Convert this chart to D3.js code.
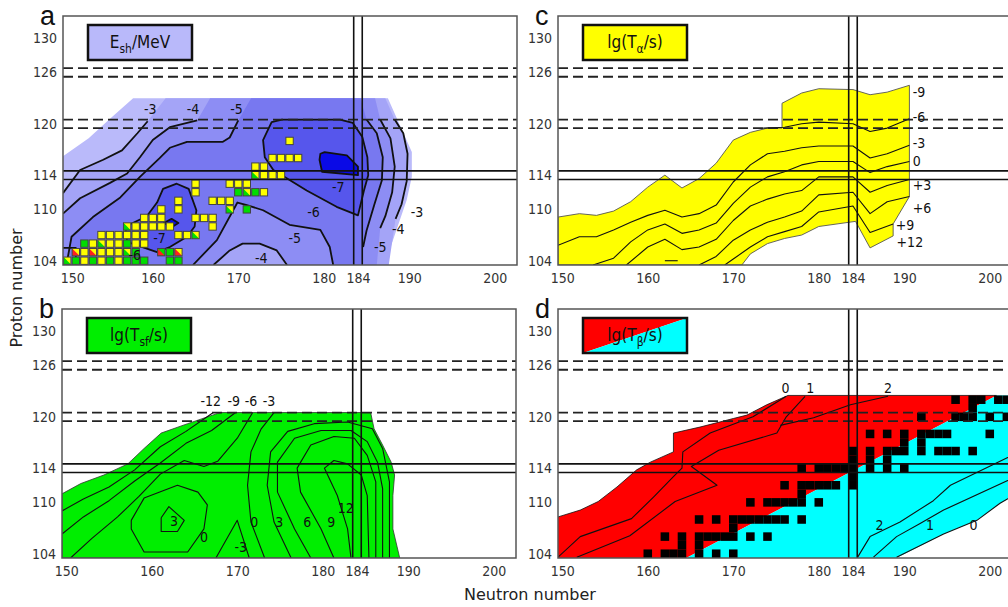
<!DOCTYPE html>
<html>
<head>
<meta charset="utf-8">
<script src="https://cdn.jsdelivr.net/npm/d3@7"></script>
<style>
  body { margin: 0; background: #fff; }
  svg { display: block; }
</style>
</head>
<body>
<svg id="chart" width="1008" height="607"></svg>
<script>
// ---- shared axes
const xTicks = [150, 160, 170, 180, 184, 190, 200];
const yTicks = [104, 110, 114, 120, 126, 130];
const shellN = [184];
const shellZ = [114];
const dashedZ = [120, 126];

// ---- panel a: shell correction energy (MeV), contour fills from outside in
const eshOuter = [[149.5,103.5],[149.5,116.2],[152.5,118.3],[155,120.6],[157.7,123],[187.5,123],[190.3,116.7],[190.3,113.8],[189.7,111.1],[187.1,103.5]];
const eshBand3 = [[149.5,103.5],[149.5,111.9],[151.5,114.6],[154.2,115.8],[156.4,116.9],[158.2,118.9],[159.4,120.3],[161.5,123],[187.2,123],[188.3,120.5],[189.3,118.9],[189.8,116.5],[189.7,113.3],[189.1,110.6],[188.4,108.9],[187.6,103.5]];
const eshBand4 = [[149.5,103.5],[149.5,109.5],[151.5,111.3],[155,113.1],[157,114.2],[158.5,116.1],[160,118.1],[162,119.6],[165.2,120.4],[166.7,123],[186,123],[186.6,120.5],[187.8,118.3],[188.3,115],[188,112],[187.2,109.2],[186.6,107.8],[186.2,103.5],[175.7,103.5],[174.5,105.2],[172.5,106],[170.5,106],[169,105.2],[167.1,103.5]];
const eshBand5 = [[149.9,103.5],[150.5,106.8],[153,109.1],[156.2,111.4],[158.5,113.8],[160.8,116],[162,117.2],[164,117.9],[168.2,117.9],[169,118.4],[170,120.4],[171.5,123],[184.3,123],[185,120.5],[186.2,118.9],[186.9,116.1],[186.8,113.4],[185.9,110.5],[185,107.5],[184.6,105.6],[184.4,103.5],[181.1,103.5],[180.7,105.6],[179.6,107.6],[176,108.2],[172.9,109.9],[171,110.5],[169.9,110.8],[167.5,106.4],[164.7,103.5]];
const eshBand6 = [[173.9,120.2],[175.1,120.5],[181.9,120.5],[183.4,120.1],[184.5,118.5],[185.1,116.1],[185.2,114],[184.7,112.2],[184,109.3],[181.5,110.3],[178,112.2],[174.1,114.6],[173.1,116.1],[172.9,118.1]];
const eshIsland6 = [[161.2,112.4],[162.8,113.0],[164.2,112.4],[165.1,109.9],[164.9,108.0],[164,106.8],[162,105.6],[160.5,105.0],[157,106.2],[156.8,108],[159.3,109.2],[160.5,110.8]];
const eshCore7 = [[179.5,115.8],[179.6,116.5],[180.1,116.7],[182.7,116.3],[184,115],[184,114],[179.8,114.4]];
const eshIslandCore = [[161.3,108.4],[162.2,108.9],[163,108.4],[162.2,107.9]];
const eshContours = [
  [[149.5,111.9],[151.5,114.6],[154.2,115.8],[156.4,116.9],[158.2,118.9],[159.4,120.3]],
  [[149.5,109.5],[151.5,111.3],[155,113.1],[157,114.2],[158.5,116.1],[160,118.1],[162,119.6],[165.2,120.4]],
  [[149.9,103.5],[150.5,106.8],[153,109.1],[156.2,111.4],[158.5,113.8],[160.8,116],[162,117.2],[164,117.9],[168.2,117.9],[169,118.4],[170,120.4]],
  [[164.7,103.5],[167.5,106.4],[169.9,110.8],[171,110.5],[172.9,109.9],[176,108.2],[179.6,107.6],[180.7,105.6],[181.1,103.5]],
  [[167.1,103.5],[169,105.2],[170.5,106],[172.5,106],[174.5,105.2],[175.7,103.5]],
  [[185.0,120.5],[186.2,118.9],[186.9,116.1],[186.8,113.4],[185.9,110.5],[185.0,107.5],[184.6,105.6]],
  [[186.6,120.5],[187.8,118.3],[188.3,115],[188.0,112],[187.2,109.2],[186.6,107.8]],
  [[188.3,120.5],[189.3,118.9],[189.8,116.5],[189.7,113.3],[189.1,110.6],[188.4,108.9]],
  [[149.5,105.5],[151,105.5],[151,103.5]]
];
const eshLabels = [
  ['-3',159.7,121.7],['-4',164.7,121.7],['-5',169.8,121.7],['-7',181.7,112.6],['-6',178.8,109.7],
  ['-5',176.6,106.7],['-4',172.7,104.3],['-3',190.9,109.7],['-4',188.7,107.7],['-5',186.6,105.6],
  ['-7',160.8,106.7],['-6',157.9,104.7]
];
// known nuclei: [N, Z, colour code] (two letters = lower-left / upper-right halves)
const knownCells = [
  [176,118,'y'],
  [174,116,'y'],[175,116,'y'],[176,116,'y'],[177,116,'y'],
  [172,115,'y'],[173,115,'y'],
  [172,114,'gy'],[173,114,'y'],[174,114,'y'],[175,114,'y'],
  [165,113,'y'],[169,113,'y'],[170,113,'y'],[171,113,'y'],
  [165,112,'y'],[170,112,'g'],[171,112,'gy'],[172,112,'g'],[173,112,'y'],
  [163,111,'y'],[167,111,'y'],[168,111,'y'],[169,111,'y'],
  [161,110,'y'],[163,110,'y'],[169,110,'gy'],[171,110,'g'],
  [159,109,'y'],[160,109,'y'],[161,109,'y'],[165,109,'y'],[166,109,'y'],[167,109,'y'],
  [157,108,'gy'],[158,108,'y'],[159,108,'y'],[160,108,'y'],[161,108,'y'],[162,108,'y'],[167,108,'y'],
  [154,107,'y'],[155,107,'y'],[156,107,'y'],[157,107,'y'],[158,107,'y'],[159,107,'y'],[163,107,'y'],[164,107,'y'],[165,107,'gy'],
  [152,106,'g'],[153,106,'y'],[154,106,'gy'],[155,106,'y'],[156,106,'y'],[157,106,'g'],[158,106,'y'],[159,106,'y'],
  [151,105,'ry'],[152,105,'y'],[153,105,'ry'],[154,105,'y'],[155,105,'y'],[156,105,'y'],[157,105,'gy'],[158,105,'g'],[161,105,'rg'],[162,105,'g'],[163,105,'ry'],
  [150,104,'gy'],[151,104,'g'],[152,104,'y'],[153,104,'g'],[154,104,'y'],[155,104,'g'],[156,104,'y'],[157,104,'g'],[158,104,'g'],[159,104,'g'],[162,104,'g'],[163,104,'g']
];

// ---- panel b: spontaneous fission half-lives
const sfRegion = [[149.5,103.5],[149.5,111.0],[151.7,112.2],[154.4,113.2],[157.2,114.5],[159.1,116.3],[161.1,118.1],[164.2,119.2],[167.7,120.4],[168.2,120.5],[185.6,120.5],[186,118.6],[187,116.7],[188,114.7],[188.4,113.2],[188.2,110.8],[188.2,106.9],[189,103.5]];
const sfContours = [
  [[149.5,109.0],[152,110.4],[155,111.8],[158,113.8],[161,116.5],[164,118.3],[167.2,120.5]],
  [[149.5,106.3],[152,108.3],[155,110.2],[158,112.5],[161,114.6],[164,116.9],[167,118.4],[169.8,120.5]],
  [[150.5,103.5],[153,105.8],[156,108.3],[158.5,110.7],[161,113.3],[163.8,114.9],[166.1,114.2],[167.7,114.8],[170,117.5],[171.8,120.5]],
  [[173.2,103.5],[171.6,107.7],[171.2,112],[171.6,115.9],[172.8,118.6],[174.3,120.5]],
  [[176.3,103.5],[174.3,107.7],[173.5,112],[173.9,115.9],[175.9,118.3],[179,119.2],[182.9,119.4],[185.8,118.6],[187,116.3],[187.8,112.4],[187.8,103.5]],
  [[178.6,103.5],[176.7,106.9],[174.7,111.2],[174.7,114.7],[176.7,117.5],[179.8,118.4],[183.3,118.4],[185.2,117.1],[186.4,114.7],[187,111.6],[187,103.5]],
  [[181.3,103.5],[179.8,106.9],[177.4,111.2],[177,114],[178.6,116.7],[181.3,117.7],[183.7,117.5],[185.2,115.5],[186.2,112.4],[186.2,103.5]],
  [[183.3,103.5],[182.9,106.9],[181.7,110.8],[180.2,114],[181.3,114.9],[182.9,114.5],[184.5,113.2],[185.2,110.8],[185.4,103.5]],
  [[157.6,107.9],[159.1,110.5],[163,112],[165.4,111.2],[166.5,109.7],[166.1,106.9],[164.2,104.2],[159.1,104.2],[157.6,106.9],[157.6,107.9]],
  [[161.1,108.2],[162,109.5],[163.8,107.9],[163,106.6],[161.1,106.6],[161.1,108.2]],
  [[167.5,103.5],[170,107.9],[171.4,103.5]]
];
const sfLabels = [
  ['-12',166.9,121.8],['-9',169.6,121.8],['-6',171.6,121.8],['-3',173.7,121.8],
  ['3',162.6,107.8],['0',166.1,106],['-3',170.4,104.8],['0',172,107.7],['3',174.9,107.7],
  ['6',178.2,107.7],['9',181,107.7],['12',182.7,109.3]
];

// ---- panel c: alpha-decay half-lives
const alphaTop = [[149.5,109.1],[152,109.5],[154,109.3],[156,109.8],[158,110.9],[160,112.6],[162,114.0],[164,112.5],[166,113.6],[168,115.4],[170,118.1],[172,119.0],[174,119.5],[175.7,119.5],[175.7,122.4],[178,123.6],[180,124.1],[184,124.0],[186,123.4],[188,123.7],[190.6,124.5]];
const alphaEdge = [[190.6,111.5],[188.7,108.3],[188.7,106.9],[186,105.5],[184.3,108.6],[180,108],[178,107],[176,106.6],[174,106],[172,104.8],[171,103.5],[149.5,103.5]];
const alphaContours = [
  [[173.5,119.5],[176,119.6],[178,120.0],[180,120.2],[184,120.0],[186,119.1],[188,119.5],[190.6,120.6]],
  [[149.5,105.8],[152,106.8],[154,106.8],[156,107.6],[158,108.5],[160,109.3],[162,109.9],[164,109.1],[166,109.5],[168,110.5],[170,113.2],[172,115.2],[174,116.5],[176,116.8],[178,117.2],[180,117.4],[184,117.4],[186,116.0],[188,116.5],[190.6,117.5]],
  [[153.6,103.5],[156,104.3],[158,106.2],[160,107.6],[162,108.3],[164,107.2],[166,107.6],[168,108.4],[170,110.7],[172,112.6],[174,113.8],[176,114.4],[178,115.2],[180,115.6],[184,115.6],[186,114.3],[188,115.0],[190.6,115.6]],
  [[157.5,103.5],[160,105.6],[162,106.5],[164,105.3],[166,105.6],[168,106.5],[170,108.7],[172,110.4],[174,111.2],[176,111.8],[178,112.2],[180,113.8],[184,113.8],[186,112.0],[188,112.8],[190.6,113.5]],
  [[162,104.0],[163.5,104.0]],
  [[166,103.5],[168,104.5],[170,106.4],[172,107.6],[174,108.5],[176,109.1],[178,109.8],[180,111.7],[184,112.0],[186,109.5],[188,110.9],[190.6,111.5]],
  [[169,103.5],[170,104.2],[172,105.6],[174,106.8],[176,107.4],[178,108.0],[180,109.7],[184,110.4],[186,107.3],[188.7,108.3]]
];
const alphaLabels = [
  ['-9',191,123.7],['-6',191,120.8],['-3',191,117.7],['0',191,115.7],
  ['+3',191,112.8],['+6',191,110.2],['+9',189,108.2],['+12',189.1,106.2]
];

// ---- panel d: beta-decay half-lives
const betaRed = [[149.5,103.5],[149.5,108.3],[152.1,109.1],[154.2,110.1],[156.4,111.8],[158.7,113.8],[160.3,114.7],[163,115.9],[163,118.1],[166.1,118.8],[170,119.8],[171.6,120.2],[173.9,121.4],[176.4,122.5],[200.8,122.5],[164.5,103.5]];
const betaCyan = [[164.5,103.5],[200.8,122.5],[202.6,122.5],[202.6,110.7],[201.2,109.9],[198.5,107.9],[194.6,106.3],[189.1,103.5]];
const betaContours = [
  [[149.5,103.6],[152.1,106],[158.1,108.1],[160.7,110.65],[163,113],[164,114],[164.1,115.9],[167.3,118.1],[172.3,120],[176.2,122.4]],
  [[151.7,103.6],[157.9,106.1],[163.2,110.1],[168.1,112],[165.1,114.2],[168.3,116.1],[175.1,118.1],[176.2,120],[178.4,122.4]],
  [[175.5,119.0],[179.4,119.9],[183.7,121.4],[188.1,122.4]],
  [[184.55,103.6],[186,106],[189.5,107.7],[193.4,110.2],[195.4,112],[202.6,115.5]],
  [[186.4,103.6],[189.1,106],[191.8,107.5],[194.6,109.1],[202.6,112.8]],
  [[189.1,103.6],[194.6,106.3],[198.5,107.9],[201.2,109.9],[202.6,110.7]]
];
const betaLabels = [
  ['0',176.1,123.3],['1',179,123.3],['2',188.1,123.3],
  ['2',187.1,107.3],['1',193,107.3],['0',198.1,107.3]
];
const stableCells = [
  [160,104],[162,104],[163,104],[164,104],[166,104],[168,104],[170,104],
  [164,105],[166,105],
  [162,106],[164,106],[166,106],[167,106],[168,106],[169,106],[170,106],[172,106],[174,106],
  [170,107],
  [166,108],[168,108],[170,108],[171,108],[172,108],[173,108],[174,108],[175,108],[176,108],[178,108],
  [172,110],[174,110],[175,110],[176,110],[177,110],[178,110],[180,110],
  [178,111],
  [176,112],[178,112],[179,112],[180,112],[181,112],[182,112],[184,112],
  [184,113],
  [178,114],[180,114],[181,114],[182,114],[183,114],[184,114],[186,114],[188,114],[190,114],
  [184,115],[186,115],[188,115],
  [184,116],[186,116],[188,116],[189,116],[190,116],[192,116],[194,116],[195,116],[196,116],[198,116],
  [190,117],[192,117],
  [186,118],[188,118],[190,118],[192,118],[193,118],[194,118],[195,118],[200,118],
  [192,120],[196,120],[197,120],[198,120],[200,120],[202,120],
  [198,121],
  [196,122],[198,122],[199,122],[201,122],[202,122]
];

// ---- drawing
const W = 454, H = 249;
const tickFont = '"Liberation Sans Narrow","DejaVu Sans Condensed",sans-serif';
const x = d3.scaleLinear().domain([149.5, 202.6]).range([0, W]);
const y = d3.scaleLinear().domain([103.5, 132.6]).range([H, 0]);
const line = d3.line().x(d => x(d[0])).y(d => y(d[1]));
const unit = x(151) - x(150);

const svg = d3.select('#chart');
const defs = svg.append('defs');

function panel(id, left, top) {
  defs.append('clipPath').attr('id', 'clip-' + id)
    .append('rect').attr('width', W).attr('height', H);
  const g = svg.append('g').attr('transform', `translate(${left},${top})`);
  const plot = g.append('g').attr('clip-path', `url(#clip-${id})`);
  return { g, plot };
}

function fillArea(sel, pts, fill, stroke, sw) {
  sel.append('path')
    .attr('d', line(pts) + 'Z')
    .attr('fill', fill)
    .attr('stroke', stroke || 'none')
    .attr('stroke-width', sw || 0)
    .attr('stroke-linejoin', 'round');
}

function contourLines(sel, list, width, closed) {
  sel.append('g').selectAll('path')
    .data(list).enter().append('path')
    .attr('d', d => line(d) + (closed ? 'Z' : ''))
    .attr('fill', 'none')
    .attr('stroke', '#111')
    .attr('stroke-width', width)
    .attr('stroke-linejoin', 'round');
}

function contourLabels(sel, list, anchor) {
  sel.append('g').selectAll('text')
    .data(list).enter().append('text')
    .attr('x', d => x(d[1]))
    .attr('y', d => y(d[2]))
    .attr('dy', '0.35em')
    .attr('text-anchor', anchor || 'middle')
    .attr('font-family', tickFont)
    .attr('font-size', 14)
    .attr('fill', '#111')
    .text(d => d[0]);
}

function guides(plot) {
  const dashed = dashedZ.flatMap(z => [z - 0.5, z + 0.5]);
  plot.append('g').selectAll('line').data(dashed).enter().append('line')
    .attr('x1', 0).attr('x2', W)
    .attr('y1', d => y(d)).attr('y2', d => y(d))
    .attr('stroke', '#222').attr('stroke-width', 1.8)
    .attr('stroke-dasharray', '10,5');
  const hz = shellZ.flatMap(z => [z - 0.5, z + 0.5]);
  plot.append('g').selectAll('line').data(hz).enter().append('line')
    .attr('x1', 0).attr('x2', W)
    .attr('y1', d => y(d)).attr('y2', d => y(d))
    .attr('stroke', '#111').attr('stroke-width', 1.6);
  const vn = shellN.flatMap(n => [n - 0.5, n + 0.5]);
  plot.append('g').selectAll('line').data(vn).enter().append('line')
    .attr('y1', 0).attr('y2', H)
    .attr('x1', d => x(d)).attr('x2', d => x(d))
    .attr('stroke', '#111').attr('stroke-width', 1.6);
}

function frame(g, letter, firstShift) {
  g.append('rect').attr('width', W).attr('height', H)
    .attr('fill', 'none').attr('stroke', '#555').attr('stroke-width', 1.5);

  const yAxis = g.append('g').call(d3.axisLeft(y).tickValues(yTicks).tickSize(0).tickPadding(6));
  const xAxis = g.append('g').attr('transform', `translate(0,${H})`)
    .call(d3.axisBottom(x).tickValues(xTicks).tickSize(0).tickPadding(8));
  [yAxis, xAxis].forEach(a => {
    a.select('.domain').remove();
    a.selectAll('text').attr('font-family', tickFont).attr('font-size', 14).attr('fill', '#333');
  });
  // first neutron label sits a little inside the frame in panel a
  xAxis.selectAll('text').filter(d => d === 150).attr('dx', firstShift || 0);

  g.append('text').attr('x', -23).attr('y', 9)
    .attr('font-family', '"Liberation Sans",Arial,sans-serif')
    .attr('font-size', 27).attr('fill', '#111')
    .text(letter);
}

function legend(g, fill, main, sub, rest) {
  const box = g.append('g').attr('transform', 'translate(25,9)');
  if (Array.isArray(fill)) {
    box.append('path').attr('d', 'M0,0H104L0,35Z').attr('fill', fill[0]);
    box.append('path').attr('d', 'M104,0V35H0Z').attr('fill', fill[1]);
  } else {
    box.append('rect').attr('width', 104).attr('height', 35).attr('fill', fill);
  }
  box.append('rect').attr('width', 104).attr('height', 35)
    .attr('fill', 'none').attr('stroke', '#111').attr('stroke-width', 2.5);
  const t = box.append('text').attr('x', 52).attr('y', 23)
    .attr('text-anchor', 'middle')
    .attr('font-family', '"DejaVu Sans Condensed","DejaVu Sans",sans-serif')
    .attr('font-size', 17).attr('fill', '#111');
  t.append('tspan').text(main);
  t.append('tspan').attr('font-size', 12).attr('dy', 5).text(sub);
  t.append('tspan').attr('dy', -5).text(rest);
}

// panel a
const A = panel('a', 63, 16);
fillArea(A.plot, eshOuter, '#babafa');
fillArea(A.plot, eshBand3, '#a4a4f7');
fillArea(A.plot, eshBand4, '#8d8df4');
fillArea(A.plot, eshBand5, '#7878f0');
fillArea(A.plot, eshBand6, '#5656ec');
fillArea(A.plot, eshIsland6, '#5656ec');
fillArea(A.plot, eshCore7, '#0a0ae6');
fillArea(A.plot, eshIslandCore, '#0a0ae6');
contourLines(A.plot, eshContours, 1.8, false);
contourLines(A.plot, [eshBand6, eshIsland6, eshCore7, eshIslandCore], 1.8, true);

const cellColor = { y: '#ffff00', g: '#00dd00', r: '#ff2020' };
const cell = A.plot.append('g').selectAll('g')
  .data(knownCells).enter().append('g')
  .attr('transform', d => `translate(${x(d[0] - 0.5)},${y(d[1] + 0.5)})`);
cell.append('rect')
  .attr('x', 0.6).attr('y', 0.6)
  .attr('width', unit - 1.2).attr('height', unit - 1.2)
  .attr('fill', d => cellColor[d[2].slice(-1)]);
cell.filter(d => d[2].length > 1).append('path')
  .attr('d', `M0.6,0.6L0.6,${unit - 0.6}L${unit - 0.6},${unit - 0.6}Z`)
  .attr('fill', d => cellColor[d[2][0]]);
cell.append('rect')
  .attr('x', 0.6).attr('y', 0.6)
  .attr('width', unit - 1.2).attr('height', unit - 1.2)
  .attr('fill', 'none').attr('stroke', '#444').attr('stroke-width', 1);
contourLabels(A.plot, eshLabels);
guides(A.plot);
frame(A.g, 'a', 5);
legend(A.g, '#b9b9fa', 'E', 'sh', '/MeV');

// panel b
const B = panel('b', 62, 309);
fillArea(B.plot, sfRegion, '#00ee00', '#333', 0.8);
contourLines(B.plot, sfContours, 1.1, false);
contourLabels(B.plot, sfLabels);
guides(B.plot);
frame(B.g, 'b');
legend(B.g, '#00ee00', 'lg(T', 'sf', '/s)');

// panel c
const C = panel('c', 558, 16);
fillArea(C.plot, alphaTop.concat(alphaEdge), '#ffff00', '#555', 0.9);
contourLines(C.plot, alphaContours, 1.1, false);
contourLabels(C.plot, alphaLabels, 'start');
guides(C.plot);
frame(C.g, 'c');
legend(C.g, '#ffff00', 'lg(T', 'α', '/s)');

// panel d
const D = panel('d', 558, 309);
fillArea(D.plot, betaRed, '#ff0000');
fillArea(D.plot, betaCyan, '#00ffff');
D.plot.append('g').selectAll('rect')
  .data(stableCells).enter().append('rect')
  .attr('x', d => x(d[0] - 0.5)).attr('y', d => y(d[1] + 0.5))
  .attr('width', unit).attr('height', unit)
  .attr('fill', '#000');
contourLines(D.plot, [betaRed.slice(1, 15)], 0.8, false);
contourLines(D.plot, betaContours, 1.1, false);
contourLabels(D.plot, betaLabels);
guides(D.plot);
frame(D.g, 'd');
legend(D.g, ['#ff0000', '#00ffff'], 'lg(T', 'β', '/s)');

// axis titles
svg.append('text')
  .attr('transform', 'translate(22,288) rotate(-90)')
  .attr('text-anchor', 'middle')
  .attr('font-family', '"DejaVu Sans",sans-serif')
  .attr('font-size', 16).attr('fill', '#222')
  .text('Proton number');
svg.append('text')
  .attr('x', 530).attr('y', 600)
  .attr('text-anchor', 'middle')
  .attr('font-family', '"DejaVu Sans",sans-serif')
  .attr('font-size', 16).attr('fill', '#222')
  .text('Neutron number');
</script>
</body>
</html>
